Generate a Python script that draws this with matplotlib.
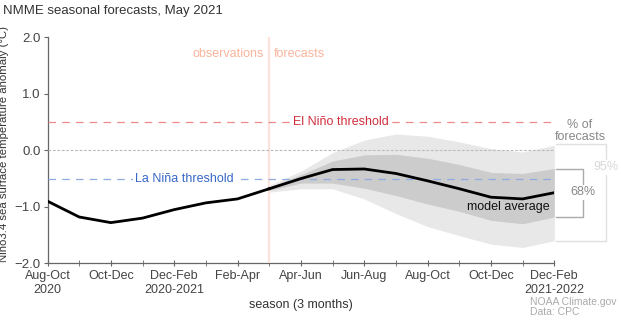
import matplotlib
matplotlib.use("Agg")
import matplotlib.pyplot as plt

# seasons, one per month step
seasons = ["Aug-Oct", "Sep-Nov", "Oct-Dec", "Nov-Jan", "Dec-Feb", "Jan-Mar",
           "Feb-Apr", "Mar-May", "Apr-Jun", "May-Jul", "Jun-Aug", "Jul-Sep",
           "Aug-Oct", "Sep-Nov", "Oct-Dec", "Nov-Jan", "Dec-Feb"]
tick_labels = ["Aug-Oct\n2020", "Oct-Dec", "Dec-Feb\n2020-2021", "Feb-Apr",
               "Apr-Jun", "Jun-Aug", "Aug-Oct", "Oct-Dec", "Dec-Feb\n2021-2022"]

# observed anomaly, Aug-Oct 2020 .. Mar-May 2021
observed = [-0.90, -1.18, -1.28, -1.20, -1.05, -0.93, -0.86, -0.68]
# forecast, Mar-May 2021 .. Dec-Feb 2021-2022
forecast_mean = [-0.68, -0.50, -0.34, -0.33, -0.41, -0.54, -0.68, -0.83, -0.86, -0.75]
band68_hi = [-0.65, -0.43, -0.19, -0.08, -0.07, -0.14, -0.25, -0.39, -0.41, -0.32]
band68_lo = [-0.71, -0.58, -0.58, -0.67, -0.80, -0.95, -1.08, -1.24, -1.30, -1.18]
band95_hi = [-0.62, -0.37, -0.04, 0.18, 0.29, 0.25, 0.15, 0.03, -0.03, 0.09]
band95_lo = [-0.74, -0.68, -0.68, -0.86, -1.12, -1.35, -1.51, -1.66, -1.72, -1.60]

el_nino = 0.5
la_nina = -0.5

plt.rcParams["font.family"] = ["Liberation Sans", "DejaVu Sans"]

x_obs = list(range(len(observed)))
start = len(observed) - 1
x_fc = list(range(start, start + len(forecast_mean)))
last = len(seasons) - 1

fig = plt.figure(figsize=(6.21, 3.36), dpi=100)
ax = fig.add_axes([0.0765, 0.2164, 0.8161, 0.6723])

ax.fill_between(x_fc, band95_lo, band95_hi, color="#e8e8e8", lw=0, zorder=1)
ax.fill_between(x_fc, band68_lo, band68_hi, color="#cccccc", lw=0, zorder=2)

ax.axvline(start, color="#fde2dc", lw=1.6, zorder=3)

ax.plot([0, last], [el_nino, el_nino], color="#f08a8a", lw=0.9, dashes=(6, 5), zorder=3)
ax.plot([0, last], [0, 0], color="#bbbbbb", lw=0.8, dashes=(2.5, 1.5), zorder=3)
ax.plot([0, last], [la_nina, la_nina], color="#8eaae0", lw=0.9, dashes=(6, 5), zorder=3)

ax.plot(x_obs, observed, color="black", lw=2, zorder=5)
ax.plot(x_fc, forecast_mean, color="black", lw=2, zorder=5)

ax.text(9.27, el_nino, "El Niño threshold", color="#d0303c", fontsize=9,
        ha="center", va="center", zorder=4,
        bbox=dict(fc="white", ec="none", pad=1.5))
ax.text(4.31, la_nina, "La Niña threshold", color="#3868c8", fontsize=9,
        ha="center", va="center", zorder=4,
        bbox=dict(fc="white", ec="none", pad=1.5))
ax.text(6.83, 1.70, "observations", color="#f9b49c", fontsize=9, ha="right", va="center")
ax.text(7.13, 1.70, "forecasts", color="#f9b49c", fontsize=9, ha="left", va="center")
ax.text(14.54, -1.01, "model average", color="#111111", fontsize=9, ha="center",
        va="center", zorder=6)

# legend brackets on the right
gray95 = "#e0e0e0"
gray68 = "#aaaaaa"
ax.plot([16.04, 17.63, 17.63, 16.04], [0.11, 0.11, -1.60, -1.60], color=gray95,
        lw=1, clip_on=False)
ax.text(17.63, -0.30, "95%", color="#d8d8d8", fontsize=9, ha="center",
        va="center", bbox=dict(fc="white", ec="none", pad=1))
ax.plot([16.04, 16.90, 16.90, 16.04], [-0.325, -0.325, -1.185, -1.185], color=gray68,
        lw=1, clip_on=False)
ax.text(16.90, -0.74, "68%", color="#888888", fontsize=9, ha="center",
        va="center", bbox=dict(fc="white", ec="none", pad=1))
ax.text(16.81, 0.34, "% of\nforecasts", color="#888888", fontsize=9, ha="center",
        va="center", linespacing=0.95)

ax.set_xlim(0, last)
ax.set_ylim(-2, 2)
ax.set_xticks(range(0, len(seasons), 2))
ax.set_xticklabels(tick_labels)
ax.set_xticks(range(len(seasons)), minor=True)
ax.set_yticks([-2, -1, 0, 1, 2])
ax.set_yticklabels(["\u22122.0", "\u22121.0", "0.0", "1.0", "2.0"])

for side in ["top", "right"]:
    ax.spines[side].set_visible(False)
for side in ["left", "bottom"]:
    ax.spines[side].set_color("#666666")
    ax.spines[side].set_linewidth(0.9)
ax.tick_params(axis="y", direction="out", length=3, color="#666666",
               labelcolor="#444444", labelsize=9.5, pad=2)
ax.tick_params(axis="x", which="both", direction="inout", length=4, color="#666666",
               labelcolor="#444444", labelsize=9, pad=3)

ax.set_ylabel("Niño3.4 sea surface temperature anomaly (°C)", color="#333333",
              fontsize=8.2)
ax.yaxis.set_label_coords(-0.076, 0.53)
ax.set_xlabel("season (3 months)", color="#333333", fontsize=9, labelpad=2)

fig.text(0.005, 0.967, "NMME seasonal forecasts, May 2021", color="#333333",
         fontsize=9.5, ha="left", va="center")
fig.text(0.853, 0.087, "NOAA Climate.gov\nData: CPC", color="#aaaaaa", fontsize=7.5,
         ha="left", va="center", linespacing=1.05)

fig.savefig("out.png", dpi=100)
